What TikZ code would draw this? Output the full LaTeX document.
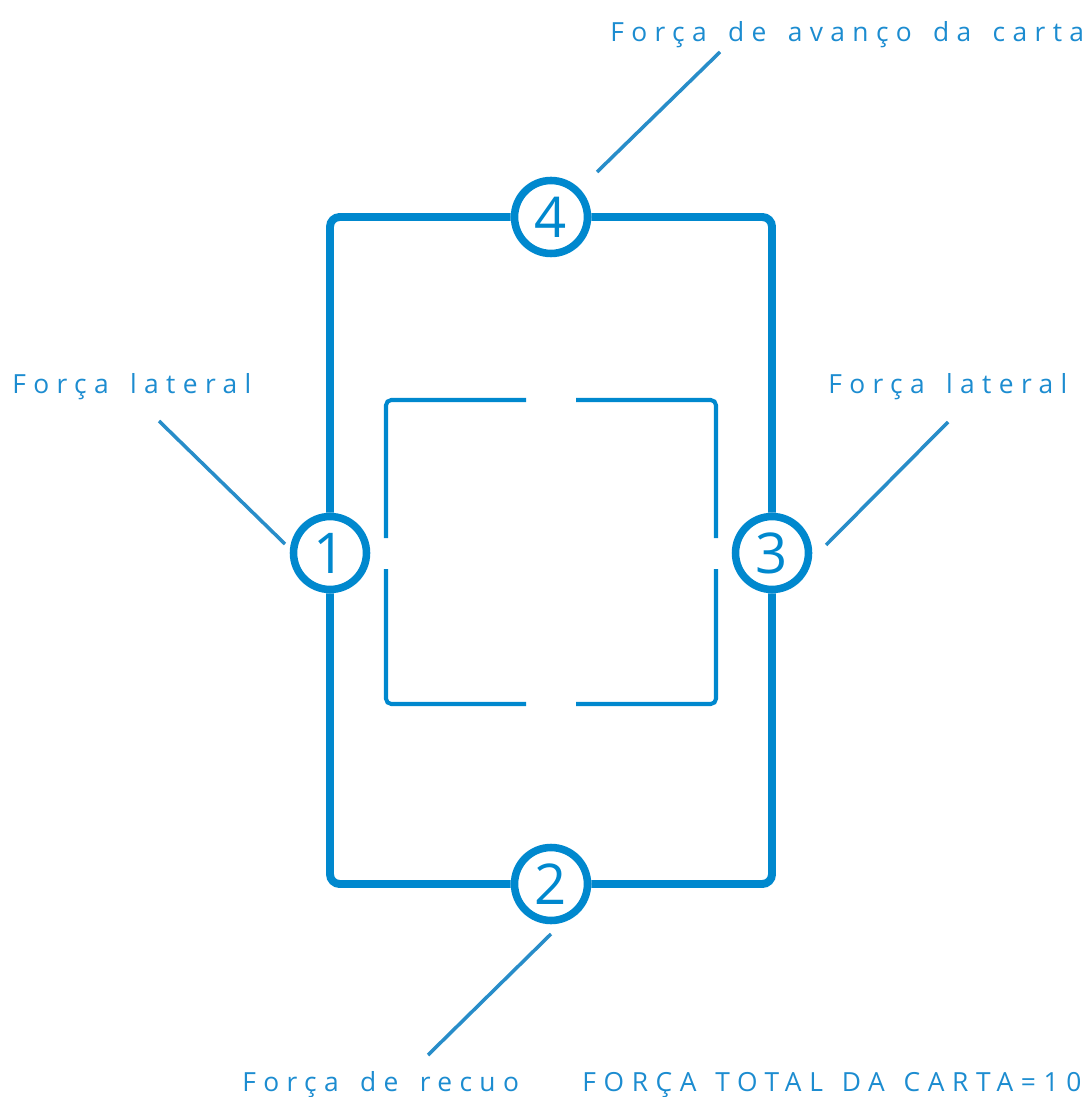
\documentclass[tikz,border=0pt]{standalone}
\usepackage{fontspec}
\setmainfont{Open Sans}
\newfontfamily\labelfont[LetterSpace=28,WordSpace=1.5]{Open Sans}
\newfontfamily\capsfont[LetterSpace=29,WordSpace=1.3]{Open Sans}
\usetikzlibrary{positioning}
\usetikzlibrary{calc}

\definecolor{cardblue}{RGB}{0,136,206}
\definecolor{leadblue}{RGB}{40,141,201}
\definecolor{textblue}{RGB}{28,140,208}

\tikzset{
  ring/.style={circle,draw=cardblue,fill=white,line width=4.3pt,inner sep=0pt,
    minimum size=1.46cm,text=cardblue,font=\fontsize{32}{36}\selectfont},
  frame/.style={draw=cardblue,line width=4.5pt,rounded corners=5.5pt},
  inner/.style={draw=cardblue,line width=2.3pt,rounded corners=3pt},
  lead/.style={draw=leadblue,line width=2pt},
  lbl/.style={text=textblue,inner sep=0pt,anchor=base west,
    font=\labelfont\fontsize{15}{18}\selectfont}
}

\begin{document}
\begin{tikzpicture}[x=0.02cm,y=-0.02cm]
\useasboundingbox (0,0) rectangle (1089,1097);

% the four rings
\node[ring](one) at (330,553){1};
\node[ring](two) at (551,884){2};
\node[ring](three) at (772,553){3};
\node[ring](four) at (551,217){4};

% outer frame, ring to ring
\draw[frame] (one.north) |- (four.west);
\draw[frame] (four.east) -| (three.north);
\draw[frame] (three.south) |- (two.east);
\draw[frame] (two.west) -| (one.south);

% inner brackets
\draw[inner] (526,400) -| (386,538);
\draw[inner] (386,569) |- (526,704);
\draw[inner] (576,400) -| (716,538);
\draw[inner] (716,569) |- (576,704);

% labels
\node[lbl](avanco) at (610,42){Força de avanço da carta};
\node[lbl](latL) at (12,394){Força lateral};
\node[lbl](latR) at (828,394){Força lateral};
\node[lbl](recuo) at (242,1091){Força de recuo};
\node[lbl,font=\capsfont\fontsize{15}{18}\selectfont](total) at (582,1091){FORÇA TOTAL DA CARTA=10};

% leader lines
\coordinate (avancoA) at (720,52);
\coordinate (avancoB) at (597,172);
\coordinate (latLA) at (159,421);
\coordinate (latLB) at (285,544);
\coordinate (latRA) at (948,422);
\coordinate (latRB) at (826,545);
\coordinate (recuoA) at (551,934);
\coordinate (recuoB) at (428,1055);

\path
(avancoA) edge[lead] (avancoB)
(latLA) edge[lead] (latLB)
(latRA) edge[lead] (latRB)
(recuoA) edge[lead] (recuoB);
\end{tikzpicture}
\end{document}
